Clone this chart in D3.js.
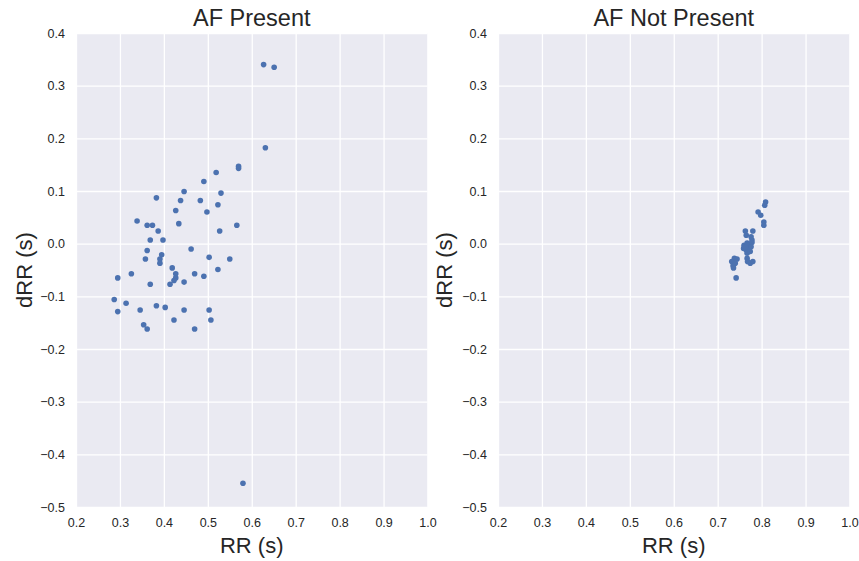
<!DOCTYPE html>
<html>
<head>
<meta charset="utf-8">
<script src="https://cdn.jsdelivr.net/npm/d3@7"></script>
<style>
    body { margin: 0; background: #fff; }
    svg text { font-family: "Liberation Sans", Arial, sans-serif; fill: #262626; }
    .grid line { stroke: #fff; stroke-width: 1.3; }
    .grid path { display: none; }
    .axis path, .axis line { display: none; }
    .axis text { font-size: 12.5px; }
</style>
</head>
<body>
<svg id="chart" width="859" height="561"></svg>
<script>
// AF present panel
const afPresentRR = [
    0.519, 0.570, 0.570, 0.491, 0.446, 0.530, 0.383, 0.438, 0.483, 0.523,
    0.427, 0.498, 0.339, 0.362, 0.374, 0.434, 0.566, 0.387, 0.527, 0.369,
    0.398, 0.462, 0.362, 0.395, 0.358, 0.391, 0.391, 0.503, 0.550, 0.419,
    0.523, 0.295, 0.326, 0.427, 0.427, 0.423, 0.470, 0.491, 0.369, 0.414,
    0.446, 0.287, 0.314, 0.295, 0.346, 0.383, 0.403, 0.446, 0.503, 0.354,
    0.362, 0.423, 0.470, 0.507, 0.627, 0.651, 0.631, 0.580
];
const afPresentDRR = [
    0.135, 0.147, 0.143, 0.118, 0.099, 0.096, 0.087, 0.082, 0.082, 0.074,
    0.063, 0.060, 0.043, 0.035, 0.035, 0.038, 0.035, 0.024, 0.024, 0.007,
    0.007, -0.010, -0.013, -0.021, -0.029, -0.029, -0.037, -0.026, -0.029, -0.046,
    -0.049, -0.065, -0.057, -0.057, -0.065, -0.070, -0.057, -0.062, -0.077, -0.077,
    -0.073, -0.106, -0.113, -0.129, -0.126, -0.118, -0.121, -0.126, -0.126, -0.154,
    -0.162, -0.145, -0.162, -0.145, 0.340, 0.335, 0.182, -0.455
];

// AF not present panel
const afNotPresentRR = [
    0.809, 0.807, 0.792, 0.798, 0.805, 0.805, 0.763, 0.780, 0.765, 0.776,
    0.778, 0.760, 0.767, 0.772, 0.778, 0.759, 0.765, 0.770, 0.776, 0.767,
    0.774, 0.763, 0.738, 0.744, 0.732, 0.735, 0.740, 0.736, 0.767, 0.768,
    0.774, 0.780, 0.742
];
const afNotPresentDRR = [
    0.079, 0.073, 0.060, 0.054, 0.041, 0.035, 0.024, 0.024, 0.016, 0.013,
    0.007, -0.003, 0.001, -0.001, 0.002, -0.009, -0.012, -0.009, -0.006, -0.018,
    -0.015, -0.006, -0.028, -0.029, -0.034, -0.042, -0.037, -0.046, -0.028, -0.034,
    -0.037, -0.034, -0.065
];

const xTicks = [0.2, 0.3, 0.4, 0.5, 0.6, 0.7, 0.8, 0.9, 1.0];
const yTicks = [0.4, 0.3, 0.2, 0.1, 0.0, -0.1, -0.2, -0.3, -0.4, -0.5];

const panels = [
    { title: "AF Present", rr: afPresentRR, drr: afPresentDRR, left: 76, labelX: 25 },
    { title: "AF Not Present", rr: afNotPresentRR, drr: afNotPresentDRR, left: 498, labelX: 445 }
];

const svg = d3.select("#chart");
const plotTop = 33, plotHeight = 474, plotWidth = 351.5;
const fmt = (d) => d3.format(".1f")(d).replace("-", "\u2212");

panels.forEach((p) => {
    const g = svg.append("g").attr("transform", `translate(${p.left},${plotTop})`);

    const x = d3.scaleLinear().domain([0.2, 1.0]).range([0, plotWidth]);
    const y = d3.scaleLinear().domain([-0.5, 0.4]).range([plotHeight, 0]);

    g.append("rect")
        .attr("width", plotWidth)
        .attr("height", plotHeight)
        .attr("fill", "#eaeaf2");

    g.append("g").attr("class", "grid")
        .attr("transform", `translate(0,${plotHeight})`)
        .call(d3.axisBottom(x).tickValues(xTicks).tickSize(-plotHeight).tickFormat(""));
    g.append("g").attr("class", "grid")
        .call(d3.axisLeft(y).tickValues(yTicks).tickSize(-plotWidth).tickFormat(""));

    g.append("g").attr("class", "axis")
        .attr("transform", `translate(0,${plotHeight})`)
        .call(d3.axisBottom(x).tickValues(xTicks).tickSize(0).tickPadding(11).tickFormat(fmt));
    g.append("g").attr("class", "axis")
        .call(d3.axisLeft(y).tickValues(yTicks).tickSize(0).tickPadding(11).tickFormat(fmt));

    g.selectAll(".dot")
        .data(p.rr.map((d, i) => ({ rr: d, drr: p.drr[i] })))
        .enter()
        .append("circle")
        .attr("class", "dot")
        .attr("cx", (d) => x(d.rr))
        .attr("cy", (d) => y(d.drr))
        .attr("r", 2.8)
        .attr("fill", "#4c72b0");

    g.append("text")
        .attr("x", plotWidth / 2)
        .attr("y", -7)
        .attr("text-anchor", "middle")
        .style("font-size", "23.5px")
        .text(p.title);

    g.append("text")
        .attr("x", plotWidth / 2)
        .attr("y", plotHeight + 46)
        .attr("text-anchor", "middle")
        .style("font-size", "22px")
        .text("RR (s)");

    svg.append("text")
        .attr("transform", `translate(${p.labelX + 7},${plotTop + plotHeight / 2}) rotate(-90)`)
        .attr("text-anchor", "middle")
        .style("font-size", "22px")
        .text("dRR (s)");
});
</script>
</body>
</html>
